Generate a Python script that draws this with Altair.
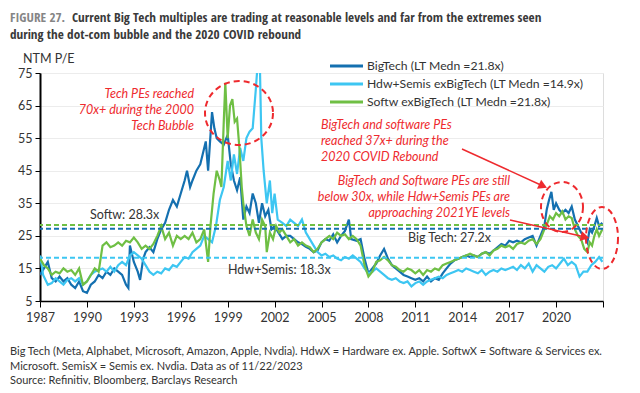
import altair as alt
import pandas as pd

# ---------------- data ----------------
series_names = ["BigTech", "Hdw+Semis exBigTech", "Softw exBigTech"]
series_colors = ["#1470b0", "#3dc6f2", "#6fbf44"]

big_t = [1987.0, 1987.25, 1987.5, 1987.75, 1988.0, 1988.25, 1988.5, 1988.75, 1989.0, 1989.25,
         1989.5, 1989.75, 1990.0, 1990.25, 1990.5, 1990.75, 1991.0, 1991.25, 1991.5, 1991.75,
         1992.0, 1992.25, 1992.5, 1992.65, 1992.75, 1993.0, 1993.25, 1993.4, 1993.6, 1993.75,
         1994.0, 1994.25, 1994.5, 1994.75, 1995.0, 1995.25, 1995.5, 1995.75, 1996.0, 1996.25,
         1996.4, 1996.6, 1996.75, 1997.0, 1997.25, 1997.4, 1997.6, 1997.75, 1998.0, 1998.15,
         1998.3, 1998.5, 1998.75, 1999.0, 1999.2, 1999.4, 1999.6, 1999.8, 2000.0, 2000.2,
         2000.4, 2000.6, 2000.8, 2001.0, 2001.2, 2001.4, 2001.6, 2001.8, 2002.0, 2002.25,
         2002.5, 2002.75, 2003.0, 2003.25, 2003.5, 2003.75, 2004.0, 2004.25, 2004.5, 2004.75,
         2005.0, 2005.25, 2005.5, 2005.75, 2006.0, 2006.25, 2006.5, 2006.75, 2006.9, 2007.25,
         2007.5, 2007.75, 2008.0, 2008.25, 2008.5, 2008.75, 2009.0, 2009.25, 2009.5, 2009.75,
         2010.0, 2010.25, 2010.5, 2010.75, 2011.0, 2011.25, 2011.5, 2011.75, 2012.0, 2012.25,
         2012.5, 2012.75, 2013.0, 2013.25, 2013.5, 2013.75, 2014.0, 2014.25, 2014.5, 2014.75,
         2015.0, 2015.25, 2015.5, 2015.75, 2016.0, 2016.25, 2016.5, 2016.75, 2017.0, 2017.25,
         2017.5, 2017.75, 2018.0, 2018.25, 2018.5, 2018.75, 2019.0, 2019.25, 2019.4, 2019.55,
         2019.7, 2019.85, 2020.0, 2020.2, 2020.4, 2020.6, 2020.8, 2021.0, 2021.2, 2021.4,
         2021.6, 2021.8, 2022.0, 2022.15, 2022.3, 2022.45, 2022.6, 2022.75, 2022.96]
big_v = [13, 15, 17, 12, 11, 12.5, 11, 12, 10, 9,
         11, 8, 7.5, 10, 11, 13, 12, 14, 13, 15,
         14, 13, 10, 9, 22, 17, 14, 11.5, 18, 20,
         21.5, 20, 24, 27, 29, 33, 36, 34, 38, 42,
         45, 40, 42, 45, 47, 50, 54, 45, 63, 58,
         55, 54, 53, 56, 47, 42, 39, 43, 30, 34,
         32, 38, 35, 29, 35, 31, 33, 27, 28, 26,
         24, 25, 25, 24, 23, 22.5, 21.6, 21, 20, 20.5,
         23, 24, 23.5, 25.5, 23, 25, 26.5, 30, 24, 23.5,
         24, 18, 13.5, 15, 16.5, 19, 21, 18, 16, 15,
         14, 13, 12.5, 12, 11.5, 12, 11, 12.5, 11, 12,
         11.5, 13.5, 15, 16.5, 17.5, 18, 18.5, 19, 18.5, 19,
         18.5, 19.5, 20, 19.5, 20.5, 21.5, 22.5, 22, 23.5, 23,
         23.5, 23, 24, 24.5, 25, 22, 25, 28, 33, 36,
         38.5, 33, 35, 33, 32, 33, 32, 34, 30, 28,
         26, 25, 23, 27, 26, 28, 30.5, 28, 29]

hdw_t = [1987.0, 1987.2, 1987.5, 1987.75, 1988.0, 1988.25, 1988.5, 1988.75, 1989.0, 1989.25,
         1989.5, 1989.75, 1990.0, 1990.25, 1990.5, 1990.75, 1991.0, 1991.25, 1991.5, 1991.75,
         1992.0, 1992.25, 1992.5, 1992.75, 1993.0, 1993.25, 1993.5, 1993.75, 1994.0, 1994.25,
         1994.5, 1994.75, 1995.0, 1995.25, 1995.5, 1995.75, 1996.0, 1996.25, 1996.5, 1996.75,
         1997.0, 1997.25, 1997.5, 1997.75, 1998.0, 1998.25, 1998.5, 1998.75, 1999.0, 1999.2,
         1999.4, 1999.6, 1999.8, 2000.0, 2000.2, 2000.4, 2000.6, 2000.8, 2000.95, 2001.05,
         2001.15, 2001.3, 2001.5, 2001.7, 2001.85, 2002.0, 2002.2, 2002.5, 2002.75, 2003.0,
         2003.25, 2003.5, 2003.75, 2004.0, 2004.25, 2004.5, 2004.75, 2005.0, 2005.25, 2005.5,
         2005.75, 2006.0, 2006.25, 2006.5, 2006.75, 2007.0, 2007.25, 2007.5, 2007.75, 2008.0,
         2008.25, 2008.5, 2008.75, 2009.0, 2009.25, 2009.5, 2009.75, 2010.0, 2010.25, 2010.5,
         2010.75, 2011.0, 2011.25, 2011.5, 2011.75, 2012.0, 2012.25, 2012.5, 2012.75, 2013.0,
         2013.25, 2013.5, 2013.75, 2014.0, 2014.25, 2014.5, 2014.75, 2015.0, 2015.25, 2015.5,
         2015.75, 2016.0, 2016.25, 2016.5, 2016.75, 2017.0, 2017.25, 2017.5, 2017.75, 2018.0,
         2018.25, 2018.5, 2018.75, 2019.0, 2019.25, 2019.5, 2019.75, 2020.0, 2020.25, 2020.5,
         2020.75, 2021.0, 2021.25, 2021.5, 2021.75, 2022.0, 2022.25, 2022.5, 2022.75, 2022.96]
hdw_v = [19, 13, 10, 10.5, 12, 11, 10, 11.5, 12, 11,
         12, 10, 11, 13, 14, 14.5, 15, 14, 15.5, 14,
         16, 17, 16, 19, 20, 19, 18, 16, 14, 13,
         14, 13.5, 15, 14.5, 16, 15.5, 17, 18.5, 18, 20,
         21, 22, 25, 24, 23, 28, 36, 40, 48, 42,
         50, 44, 52, 48, 55, 57, 58, 70, 80, 80,
         55, 45, 35, 42, 32, 38, 30, 29, 28, 30,
         29, 28, 30, 26, 24, 22, 20, 19, 19.5, 18.5,
         19, 18, 17.5, 18.5, 18, 19, 18, 17, 15, 13.5,
         14, 15, 14, 13, 12, 11.5, 12, 11, 10.5, 11,
         9.5, 10.5, 11, 10, 11, 11.5, 12, 12.5, 12, 13,
         13.5, 14, 14.5, 14, 15, 14.5, 14, 13.5, 14.5, 13,
         14, 14.5, 14, 15, 14.5, 15, 15.5, 14.5, 16, 15,
         16.5, 14, 16, 15, 14, 15.5, 16, 15, 16.5, 18,
         16, 17, 16, 12.5, 14, 14, 16, 17, 18.5, 17]

sw_t = [1987.0, 1987.25, 1987.5, 1987.75, 1988.0, 1988.25, 1988.5, 1988.75, 1989.0, 1989.25,
        1989.5, 1989.75, 1990.0, 1990.25, 1990.5, 1990.75, 1991.0, 1991.25, 1991.5, 1991.75,
        1992.0, 1992.25, 1992.5, 1992.75, 1993.0, 1993.25, 1993.5, 1993.75, 1994.0, 1994.25,
        1994.5, 1994.75, 1995.0, 1995.25, 1995.5, 1995.75, 1996.0, 1996.25, 1996.5, 1996.75,
        1997.0, 1997.25, 1997.5, 1997.75, 1997.9, 1998.1, 1998.3, 1998.5, 1998.6, 1998.75,
        1998.85, 1999.0, 1999.15, 1999.3, 1999.45, 1999.6, 1999.75, 1999.9, 2000.0, 2000.2,
        2000.4, 2000.6, 2000.8, 2001.0, 2001.2, 2001.4, 2001.5, 2001.7, 2001.9, 2002.1,
        2002.3, 2002.5, 2002.75, 2003.0, 2003.25, 2003.5, 2003.75, 2004.0, 2004.25, 2004.5,
        2004.75, 2005.0, 2005.25, 2005.5, 2005.75, 2006.0, 2006.25, 2006.5, 2006.75, 2007.0,
        2007.25, 2007.5, 2007.75, 2008.0, 2008.25, 2008.5, 2008.75, 2009.0, 2009.25, 2009.5,
        2009.75, 2010.0, 2010.25, 2010.5, 2010.75, 2011.0, 2011.25, 2011.5, 2011.75, 2012.0,
        2012.25, 2012.5, 2012.75, 2013.0, 2013.25, 2013.5, 2013.75, 2014.0, 2014.25, 2014.5,
        2014.75, 2015.0, 2015.25, 2015.5, 2015.75, 2016.0, 2016.25, 2016.5, 2016.75, 2017.0,
        2017.25, 2017.5, 2017.75, 2018.0, 2018.25, 2018.5, 2018.75, 2019.0, 2019.25, 2019.45,
        2019.6, 2019.8, 2020.0, 2020.2, 2020.4, 2020.6, 2020.8, 2021.0, 2021.2, 2021.4,
        2021.6, 2021.8, 2022.0, 2022.15, 2022.3, 2022.45, 2022.6, 2022.75, 2022.96]
sw_v = [18, 16, 15, 13, 14, 13.5, 15, 14, 14.5, 13,
        15, 10, 11, 13, 15, 14, 22, 23, 21.5, 22,
        23, 22, 23.5, 23, 24.5, 23, 21, 22, 21, 22.5,
        25, 28, 24, 26, 22, 25, 24, 25, 24, 26,
        23, 24, 27, 17, 28, 38, 45, 42, 40, 60,
        72, 55, 65, 67, 60, 61, 52, 40, 35, 28,
        25, 30, 26, 24, 30, 28, 20, 26, 24, 28,
        26, 27, 25, 23, 24, 22, 23, 22, 21.5, 20,
        21, 23, 24, 25, 24, 26, 25, 25.5, 24, 25,
        24, 22, 16, 12.5, 14, 17, 17.5, 18.5, 17.5, 16,
        15.5, 14.5, 14, 15, 14.5, 13.5, 14.5, 13, 14.5, 14,
        15, 14.5, 16, 16.5, 17, 17.5, 18, 18.5, 19, 19.5,
        19, 18.5, 19.5, 20, 19, 20.5, 21, 22, 21.5, 22,
        21, 22.5, 23, 22.5, 23.5, 24, 22.5, 24, 27, 29,
        31, 30, 32, 31, 32.5, 30, 31, 30.5, 27, 25,
        24, 21, 20, 23, 22, 25, 27, 25, 27]

current_labels = ["Softw: 28.3x", "Big Tech: 27.2x", "Hdw+Semis: 18.3x"]
current_series = ["Softw exBigTech", "BigTech", "Hdw+Semis exBigTech"]
current_values = [28.3, 27.2, 18.3]

legend_labels = ["BigTech  (LT Medn =21.8x)",
                 "Hdw+Semis exBigTech  (LT Medn =14.9x)",
                 "Softw exBigTech  (LT Medn =21.8x)"]

x_ticks = list(range(1987, 2024, 3))
y_ticks = [5, 15, 25, 35, 45, 55, 65, 75]

title_lead = "FIGURE 27."
title_line1 = "Current Big Tech multiples are trading at reasonable levels and far from the extremes seen"
title_line2 = "during the dot-com bubble and the 2020 COVID rebound"
foot_lines = [
    "Big Tech (Meta, Alphabet, Microsoft, Amazon, Apple, Nvdia). HdwX = Hardware ex. Apple. SoftwX = Software & Services ex.",
    "Microsoft. SemisX = Semis ex. Nvdia. Data as of 11/22/2023",
    "Source: Refinitiv, Bloomberg, Barclays Research",
]
ann1 = ["Tech PEs reached", "70x+ during the 2000", "Tech Bubble"]
ann2 = ["BigTech and software PEs", "reached 37x+ during the", "2020 COVID Rebound"]
ann3 = ["BigTech and Software PEs are still", "below 30x, while Hdw+Semis PEs are", "approaching 2021YE levels"]

# ---------------- build ----------------
frames = []
for name, t, v in [(series_names[0], big_t, big_v), (series_names[1], hdw_t, hdw_v),
                   (series_names[2], sw_t, sw_v)]:
    frames.append(pd.DataFrame({"t": t, "v": v, "series": name, "ord": series_names.index(name)}))
df = pd.concat(frames, ignore_index=True)
cur_df = pd.DataFrame({"v": current_values, "series": current_series})

FONT = "Lato"
TFONT = "Open Sans Condensed"
RED = "#ee2a2e"
TXT = "#333333"

xscale = alt.Scale(domain=[1987, 2023], nice=False, zero=False)
yscale = alt.Scale(domain=[5, 75], nice=False, zero=False)
cscale = alt.Scale(domain=series_names, range=series_colors)

xaxis = alt.Axis(values=x_ticks, format="d", labelExpr="datum.value == 2023 ? '' : datum.label",
                 grid=False, domainColor="black", domainWidth=1.5, tickColor="black",
                 tickSize=6, labelPadding=4, labelFontSize=12.5, labelColor=TXT, title=None,
                 labelFont=FONT, labelFlush=False, labelOverlap=False)
yaxis = alt.Axis(values=y_ticks, grid=True, gridColor="#ececec", domainColor="black",
                 domainWidth=2, tickColor="black", tickSize=5, labelPadding=3,
                 labelFontSize=12.5, labelColor=TXT, title=None, labelFont=FONT,
                 labelOverlap=False, labelFlush=False, labelBound=False)

lines = alt.Chart(df).mark_line(strokeWidth=2.2, clip=True).encode(
    x=alt.X("t:Q", scale=xscale, axis=xaxis),
    y=alt.Y("v:Q", scale=yscale, axis=yaxis),
    color=alt.Color("series:N", scale=cscale, legend=None),
    detail="ord:N",
    order="t:Q",
)

rules = alt.Chart(cur_df).mark_rule(strokeDash=[5, 3], strokeWidth=2).encode(
    y=alt.Y("v:Q", scale=yscale, axis=yaxis),
    color=alt.Color("series:N", scale=cscale, legend=None),
)


def txt(s, x, y, **kw):
    opts = dict(font=FONT, fontSize=12.5, color=TXT, align="left", baseline="middle")
    opts.update(kw)
    return alt.Chart(alt.Data(values=[{}])).mark_text(text=s, **opts).encode(
        x=alt.value(x), y=alt.value(y))


layers = [lines, rules]

# labels on the dashed lines
layers.append(txt(current_labels[0], 50, 142))
layers.append(txt(current_labels[1], 368, 165))
layers.append(txt(current_labels[2], 188, 197))

# legend
for i, lab in enumerate(legend_labels):
    yy = -7 + 18 * i
    layers.append(alt.Chart(alt.Data(values=[{}])).mark_rule(strokeWidth=3, color=series_colors[i]).encode(
        x=alt.value(290), x2=alt.value(323), y=alt.value(yy)))
    layers.append(txt(lab, 327, yy, fontSize=12.2))

# title
layers.append(txt(title_lead, -30, -55, font=TFONT, fontSize=13.2, fontWeight="bold", color="#858585"))
layers.append(txt(title_line1, 32, -55, font=TFONT, fontSize=13.2, fontWeight="bold", color="#3a3a3a"))
layers.append(txt(title_line2, -30, -38, font=TFONT, fontSize=13.2, fontWeight="bold", color="#3a3a3a"))
layers.append(txt("NTM P/E", -17, -14, fontSize=12.5))

# footnote
for i, s in enumerate(foot_lines):
    layers.append(txt(s, -30, 279 + 14.5 * i, fontSize=11))

# annotations
for i, s in enumerate(ann1):
    layers.append(txt(s, 154, 21 + 16 * i, align="right", fontStyle="italic", color=RED, fontSize=12.5))
for i, s in enumerate(ann2):
    layers.append(txt(s, 281, 52 + 16 * i, align="left", fontStyle="italic", color=RED, fontSize=12.5))
for i, s in enumerate(ann3):
    layers.append(txt(s, 470, 108 + 16 * i, align="right", fontStyle="italic", color=RED, fontSize=12.5))

# arrows
for (x1, y1, x2, y2, ang) in [(422, 76, 503, 113, 24.6), (470, 147, 545, 164, 13.2)]:
    layers.append(alt.Chart(alt.Data(values=[{}])).mark_rule(strokeWidth=1.5, color=RED).encode(
        x=alt.value(x1), y=alt.value(y1), x2=alt.value(x2), y2=alt.value(y2)))
    layers.append(alt.Chart(alt.Data(values=[{}])).mark_point(
        shape="triangle-right", filled=True, color=RED, size=100, angle=ang, opacity=1).encode(
        x=alt.value(x2), y=alt.value(y2)))


def ellipse_path(r):
    k = 0.5523
    return (f"M 1 0 C 1 {k*r:.4f} {k:.4f} {r:.4f} 0 {r:.4f} "
            f"C {-k:.4f} {r:.4f} -1 {k*r:.4f} -1 0 "
            f"C -1 {-k*r:.4f} {-k:.4f} {-r:.4f} 0 {-r:.4f} "
            f"C {k:.4f} {-r:.4f} 1 {-k*r:.4f} 1 0 Z")


for (cx, cy, rx, ry) in [(199, 40, 34, 32), (522, 134, 21, 25), (562, 165, 16, 31)]:
    layers.append(alt.Chart(alt.Data(values=[{}])).mark_point(
        shape=ellipse_path(ry / rx), filled=False, color=RED, size=(2 * rx) ** 2,
        strokeWidth=2, strokeDash=[6, 4], opacity=1).encode(
        x=alt.value(cx), y=alt.value(cy)))

chart = alt.layer(*layers).properties(
    width=563, height=228,
    autosize=alt.AutoSizeParams(type="none"),
    padding={"left": 32, "top": 65, "right": 29, "bottom": 84},
).configure_view(stroke=None).configure(font=FONT)

chart.save("out.html", embed_options={"renderer": "svg", "actions": False})
